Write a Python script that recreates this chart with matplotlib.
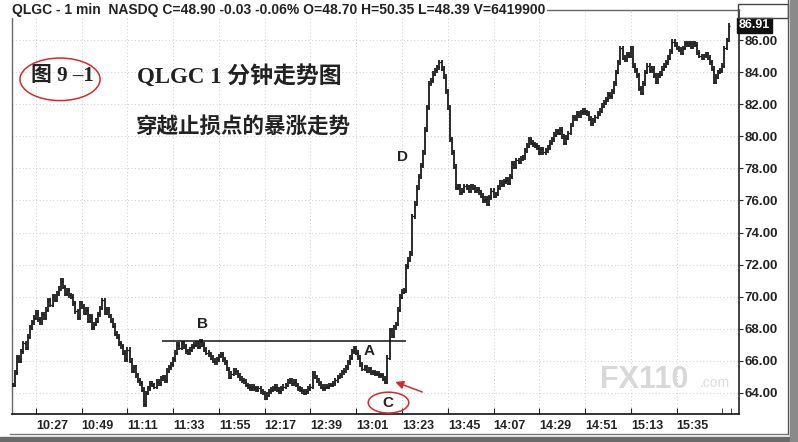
import numpy as np
import matplotlib.pyplot as plt
from matplotlib.patches import Ellipse, Rectangle
from matplotlib.transforms import ScaledTranslation

plt.rcParams['font.family'] = ['Liberation Sans', 'Noto Sans CJK SC', 'DejaVu Sans']

header = "QLGC - 1 min  NASDQ C=48.90 -0.03 -0.06% O=48.70 H=50.35 L=48.39 V=6419900"
time_labels = ['10:27', '10:49', '11:11', '11:33', '11:55', '12:17', '12:39', '13:01',
               '13:23', '13:45', '14:07', '14:29', '14:51', '15:13', '15:35']
price_ticks = [64, 66, 68, 70, 72, 74, 76, 78, 80, 82, 84, 86]
last_price = 86.91
stop_level = 67.27

# 1分钟收盘价 (10:16 起)
closes = [
    64.5, 65.3, 66.2, 66.0, 66.6, 67.1, 66.8, 67.5, 68.1, 68.4,
    68.7, 69.0, 68.6, 68.4, 68.9, 68.7, 69.2, 69.8, 69.5, 70.0,
    69.8, 70.2, 70.5, 71.0, 70.6, 70.2, 70.4, 70.1, 70.0, 69.6,
    69.1, 68.7, 69.6, 69.4, 69.0, 69.2, 68.5, 68.8, 68.1, 68.3,
    68.5, 68.9, 69.3, 69.8, 69.0, 69.2, 68.8, 68.5, 68.2, 67.7,
    67.5, 67.1, 66.9, 66.5, 66.1, 66.7, 66.0, 65.4, 65.6, 65.1,
    64.8, 64.6, 64.2, 63.3, 64.0, 64.3, 64.6, 64.5, 64.4, 64.7,
    64.6, 64.9, 65.0, 64.8, 65.4, 65.6, 65.8, 66.1, 66.5, 67.0,
    66.8, 67.1, 66.9, 66.6, 66.5, 66.7, 66.9, 67.0, 67.1, 66.9,
    67.2, 67.0, 66.7, 66.5, 66.4, 66.2, 66.0, 65.9, 66.1, 66.3,
    66.4, 66.1, 65.9, 65.5, 65.0, 65.2, 65.4, 65.3, 65.1, 64.9,
    64.8, 64.7, 64.5, 64.4, 64.3, 64.4, 64.3, 64.2, 64.3, 64.1,
    64.0, 63.7, 63.9, 64.1, 64.2, 64.3, 64.4, 64.2, 64.1, 64.3,
    64.4, 64.5, 64.7, 64.8, 64.6, 64.7, 64.5, 64.3, 64.2, 64.1,
    64.0, 64.1, 64.3, 64.4, 65.2, 65.0, 64.8, 64.6, 64.4, 64.3,
    64.4, 64.4, 64.5, 64.5, 64.6, 64.8, 65.0, 65.1, 65.3, 65.4,
    65.6, 65.9, 66.2, 66.6, 66.8, 66.5, 66.2, 65.8, 65.5, 65.6,
    65.4, 65.5, 65.3, 65.3, 65.2, 65.2, 65.1, 65.1, 64.9, 64.7,
    66.2, 67.9, 67.6, 68.1, 68.3, 69.2, 70.0, 70.3, 70.4, 71.9,
    72.3, 72.7, 75.0, 75.8, 76.8, 77.5, 78.2, 79.0, 80.4, 81.8,
    83.3, 83.5, 83.9, 84.1, 84.3, 84.6, 84.2, 83.7, 82.8, 81.8,
    79.8, 79.0, 78.1, 76.8, 76.9, 76.5, 76.6, 76.9, 76.8, 76.6,
    76.9, 76.8, 76.6, 76.7, 76.5, 76.3, 76.0, 76.1, 75.8, 76.2,
    76.6, 76.3, 76.4, 76.8, 77.1, 77.0, 77.2, 77.3, 77.1, 77.5,
    78.3, 78.1, 78.5, 78.4, 78.6, 78.7, 79.1, 79.4, 79.8, 79.6,
    79.5, 79.4, 79.3, 79.0, 79.2, 79.0, 79.1, 79.3, 79.6, 79.8,
    80.1, 80.3, 80.2, 80.4, 80.0, 79.6, 79.9, 80.2, 80.7, 81.2,
    81.1, 81.4, 81.3, 81.5, 81.6, 81.5, 81.4, 81.1, 80.8, 81.0,
    81.2, 81.4, 81.6, 81.9, 82.1, 82.3, 82.6, 82.5, 82.8, 83.3,
    84.0, 84.6, 85.5, 84.9, 84.8, 85.1, 85.0, 85.5, 84.4, 84.1,
    83.8, 83.0, 82.7, 83.3, 84.0, 84.4, 84.1, 84.2, 83.8, 83.4,
    83.8, 83.9, 84.2, 84.4, 84.6, 84.9, 85.3, 85.9, 85.7, 85.5,
    85.4, 85.2, 85.5, 85.8, 85.7, 85.8, 85.6, 85.8, 85.7, 85.2,
    85.0, 84.9, 85.0, 85.1, 84.9, 84.6, 84.2, 83.4, 83.7, 84.0,
    84.1, 84.4, 85.5, 86.0, 86.9,
]

W, H = 798, 442
def fx(px):
    return px / W
def fy(py):
    return 1 - py / H

fig = plt.figure(figsize=(W / 100, H / 100), dpi=100)
ax = fig.add_axes([fx(12), fy(414), (739 - 12) / W, (414 - 10) / H])

c = np.array(closes)
idx = np.arange(len(c))
o = np.r_[c[0], c[:-1]]
hi = np.maximum(o, c) + 0.15
lo = np.minimum(o, c) - 0.15
ax.vlines(idx, lo, hi, color='#1a1a1a', lw=1.3, zorder=3)
ax.hlines(c, idx, idx + 0.8, color='#1a1a1a', lw=0.9, zorder=3)

ax.set_xlim(-0.5, 349)
ax.set_ylim(62.69, 87.87)

# x轴
xt = [11 + 22 * k for k in range(len(time_labels))]
ax.set_xticks(xt)
ax.set_xticklabels(time_labels, ha='left', fontsize=9, fontweight='bold', color='#222')
off = ScaledTranslation(2 / 100, 0, fig.dpi_scale_trans)
for t in ax.get_xticklabels():
    t.set_transform(t.get_transform() + off)
ax.set_xticks([341, 345], minor=True)
ax.tick_params(axis='x', which='both', direction='in', length=4, pad=4, colors='#222')

# y轴 (右侧)
ax.yaxis.tick_right()
ax.set_yticks(price_ticks)
ax.set_yticklabels(['%.2f' % v for v in price_ticks], fontsize=9.5, fontweight='bold', color='#222')
ax.tick_params(axis='y', direction='out', length=3, pad=1, colors='#222')

ax.grid(True, color='#cccccc', linestyle=(0, (1, 2.5)), lw=0.7)
ax.set_axisbelow(True)
for s in ['left', 'top']:
    ax.spines[s].set_color('#666')
    ax.spines[s].set_linewidth(1)
ax.spines['bottom'].set_color('#222')
ax.spines['bottom'].set_linewidth(1.3)
ax.spines['right'].set_color('#222')
ax.spines['right'].set_linewidth(1.2)

# 当前价标签
ax.text(1.0, last_price, '%.2f' % last_price, transform=ax.get_yaxis_transform(),
        ha='left', va='center', fontsize=9, fontweight='bold', color='white',
        bbox=dict(boxstyle='square,pad=0.15', fc='#111', ec='#111'), clip_on=False, zorder=6)

# 止损线与标注
ax.hlines(stop_level, 71.6, 189, color='#111', lw=1.1, zorder=4)
ax.text(91, 68.3, 'B', fontsize=11, fontweight='bold', ha='center', va='center', color='#222')
ax.text(171, 66.6, 'A', fontsize=11, fontweight='bold', ha='center', va='center', color='#222')
ax.text(187, 78.7, 'D', fontsize=11, fontweight='bold', ha='center', va='center', color='#222')
ax.text(180, 63.35, 'C', fontsize=11, fontweight='bold', ha='center', va='center', color='#222')
ax.add_patch(Ellipse((180.5, 63.4), 19.5, 1.3, fill=False, ec='#d42a2a', lw=1.1, zorder=5))
ax.annotate('', xy=(182.5, 64.75), xytext=(198, 64.0),
            arrowprops=dict(arrowstyle='-|>', color='#d42a2a', lw=1.1, mutation_scale=12))

# 标题
ax.add_patch(Ellipse((22.6, 83.55), 38.5, 2.65, fill=False, ec='#d42a2a', lw=1.1, zorder=5))
ax.text(23.5, 83.75, '图 9 –1', family=['Liberation Serif', 'Noto Sans CJK SC'],
        fontsize=15, fontweight='bold', ha='center', va='center', color='#222')
ax.text(59.5, 83.75, 'QLGC 1 分钟走势图', family=['Liberation Serif', 'Noto Sans CJK SC'],
        fontsize=16.5, fontweight='bold', ha='left', va='center', color='#222')
ax.text(58.5, 80.6, '穿越止损点的暴涨走势', family=['Noto Sans CJK SC', 'DejaVu Sans'],
        fontsize=15.5, fontweight='bold', ha='left', va='center', color='#222')

# 水印
ax.text(282, 64.8, 'FX110', fontsize=22, fontweight='bold', color='#d8d8d8',
        ha='left', va='center', zorder=1)
ax.text(330, 64.6, '.com', fontsize=10, color='#dcdcdc', ha='left', va='center', zorder=1)

# 顶部信息栏
fig.text(fx(12), fy(10), header, fontsize=10, fontweight='bold', color='#222',
         ha='left', va='center', bbox=dict(boxstyle='square,pad=0.1', fc='white', ec='none'))

# 外框
fig.add_artist(Rectangle((fx(738), fy(18)), 50 / W, 14 / H, transform=fig.transFigure,
                         fill=False, ec='#444', lw=1))
fig.add_artist(plt.Line2D([fx(788), fx(788)], [fy(0), fy(434)], transform=fig.transFigure,
                          color='#555', lw=1))
fig.add_artist(plt.Line2D([fx(10), fx(788)], [fy(434), fy(434)], transform=fig.transFigure,
                          color='#777', lw=1))
fig.add_artist(Rectangle((0, 0), 1, 5 / H, transform=fig.transFigure, color='#6a6a6a'))
fig.add_artist(Rectangle((fx(790), 0), 8 / W, 1, transform=fig.transFigure, color='#8a8a8a'))

fig.savefig('out.png', dpi=100)
